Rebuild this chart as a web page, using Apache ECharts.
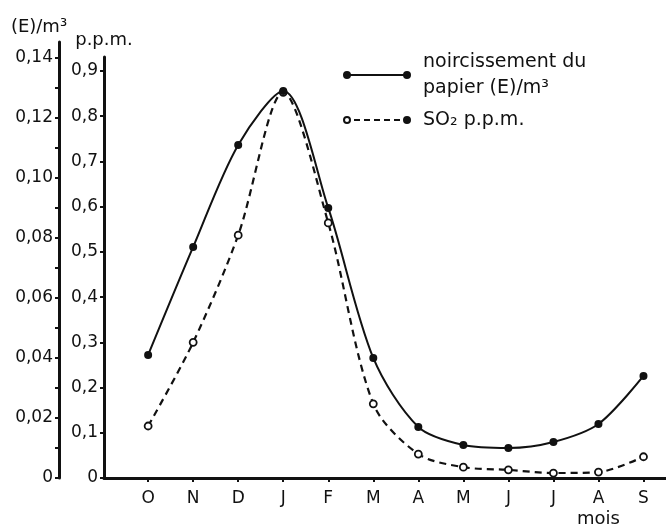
<!DOCTYPE html>
<html>
<head>
<meta charset="utf-8">
<script src="https://cdn.jsdelivr.net/npm/echarts@6/dist/echarts.min.js"></script>
<style>
  html, body { margin: 0; background: #fff; }
  #chart { width: 666px; height: 530px; }
</style>
</head>
<body>
<div id="chart"></div>
<script>
// mois (octobre -> septembre)
const months = ['O', 'N', 'D', 'J', 'F', 'M', 'A', 'M', 'J', 'J', 'A', 'S']
// noircissement du papier, (E)/m³
const blackening = [0.041, 0.077, 0.111, 0.129, 0.090, 0.040, 0.017, 0.011, 0.010, 0.012, 0.018, 0.034]
// SO2, p.p.m.
const so2 = [0.115, 0.30, 0.537, 0.853, 0.564, 0.164, 0.053, 0.024, 0.018, 0.011, 0.013, 0.047]

const eLabels = [0, 0.02, 0.04, 0.06, 0.08, 0.10, 0.12, 0.14]
const eTicks = [0, 0.01, 0.02, 0.03, 0.04, 0.05, 0.06, 0.07, 0.08, 0.09, 0.10, 0.11, 0.12, 0.13, 0.14]
const ppmLabels = [0, 0.1, 0.2, 0.3, 0.4, 0.5, 0.6, 0.7, 0.8, 0.9]
const legendNames = {
  noir: 'noircissement du\npapier (E)/m³',
  so2: 'SO₂ p.p.m.'
}

const FONT = 'DejaVu Sans'
const INK = '#111'

const monthIdx = months.map((m, i) => i)

// icônes de légende : trait plein avec points, tirets avec cercle ouvert
const solidIcon = 'path://M0,5A4,4,0,1,1,8,5A4,4,0,1,1,0,5ZM7,4L61,4L61,6L7,6ZM60,5A4,4,0,1,1,68,5A4,4,0,1,1,60,5Z'
const dashIcon = 'path://M0,5A4,4,0,1,1,8,5A4,4,0,1,1,0,5ZM2,5A2,2,0,1,0,6,5A2,2,0,1,0,2,5Z' +
  'M11,4L17,4L17,6L11,6ZM21,4L27,4L27,6L21,6ZM31,4L37,4L37,6L31,6ZM41,4L47,4L47,6L41,6ZM51,4L57,4L57,6L51,6Z' +
  'M60,5A4,4,0,1,1,68,5A4,4,0,1,1,60,5Z'

const comma = (v, d) => v === 0 ? '0' : v.toFixed(d).replace('.', ',')

const chart = echarts.init(document.getElementById('chart'), null, { renderer: 'canvas' })

const xBase = {
  type: 'value',
  min: -0.98,
  max: 11.5,
  splitLine: { show: false }
}

chart.setOption({
  animation: false,
  backgroundColor: '#fff',
  textStyle: { fontFamily: FONT, color: INK },
  grid: [
    { left: 104, right: 0, top: 42, bottom: 52 },
    { left: 104, right: 0, top: 57, bottom: 52 }
  ],
  legend: {
    orient: 'vertical',
    left: 343,
    top: 49,
    padding: 0,
    itemGap: 6,
    itemWidth: 68,
    itemHeight: 8,
    selectedMode: false,
    textStyle: { fontFamily: FONT, fontSize: 19, lineHeight: 26, color: INK, padding: [0, 0, 0, 7] },
    formatter: name => legendNames[name],
    data: [
      { name: 'noir', icon: solidIcon, itemStyle: { color: INK, borderWidth: 0 } },
      { name: 'so2', icon: dashIcon, itemStyle: { color: INK, borderWidth: 0 } }
    ]
  },
  xAxis: [
    {
      ...xBase,
      gridIndex: 0,
      axisLine: { onZero: false, lineStyle: { color: INK, width: 3 } },
      axisTick: { customValues: monthIdx, length: 4, lineStyle: { color: INK, width: 2 } },
      axisLabel: {
        customValues: monthIdx,
        formatter: v => months[Math.round(v)],
        margin: 12,
        color: INK,
        fontFamily: FONT,
        fontSize: 17
      }
    },
    { ...xBase, gridIndex: 1, show: false }
  ],
  yAxis: [
    {
      type: 'value',
      gridIndex: 0,
      position: 'left',
      offset: 45,
      min: 0,
      max: 0.1453,
      name: '(E)/m³',
      nameLocation: 'end',
      nameGap: 6,
      nameTextStyle: { fontFamily: FONT, fontSize: 18, color: INK, align: 'center', padding: [0, 40, 0, 0] },
      axisLine: { show: true, onZero: false, lineStyle: { color: INK, width: 3 } },
      axisTick: { show: true, customValues: eTicks, length: 4, lineStyle: { color: INK, width: 2 } },
      axisLabel: {
        customValues: eLabels,
        formatter: v => comma(v, 2),
        margin: 6,
        color: INK,
        fontFamily: FONT,
        fontSize: 17
      },
      splitLine: { show: false }
    },
    {
      type: 'value',
      gridIndex: 1,
      position: 'left',
      min: 0,
      max: 0.931,
      name: 'p.p.m.',
      nameLocation: 'end',
      nameGap: 8,
      nameTextStyle: { fontFamily: FONT, fontSize: 18, color: INK, align: 'center' },
      axisLine: { show: true, onZero: false, lineStyle: { color: INK, width: 3 } },
      axisTick: { show: true, customValues: ppmLabels, length: 4, lineStyle: { color: INK, width: 2 } },
      axisLabel: {
        customValues: ppmLabels,
        formatter: v => comma(v, 1),
        margin: 6,
        color: INK,
        fontFamily: FONT,
        fontSize: 17
      },
      splitLine: { show: false }
    }
  ],
  graphic: [
    {
      type: 'text',
      left: 577,
      top: 510,
      style: { text: 'mois', fill: INK, font: '18px "DejaVu Sans"' }
    }
  ],
  series: [
    {
      name: 'noir',
      type: 'line',
      xAxisIndex: 0,
      yAxisIndex: 0,
      data: blackening.map((v, i) => [i, v]),
      smooth: 0.3,
      symbol: 'circle',
      symbolSize: 8,
      itemStyle: { color: INK },
      lineStyle: { color: INK, width: 2 },
      z: 3
    },
    {
      name: 'so2',
      type: 'line',
      xAxisIndex: 1,
      yAxisIndex: 1,
      data: so2.map((v, i) => [i, v]),
      smooth: 0.3,
      symbol: 'circle',
      symbolSize: 7,
      itemStyle: { color: '#fff', borderColor: INK, borderWidth: 1.8 },
      lineStyle: { color: INK, width: 2.2, type: [7, 5] },
      z: 2
    }
  ]
})

window.addEventListener('resize', () => {
  chart.resize()
})
</script>
</body>
</html>
